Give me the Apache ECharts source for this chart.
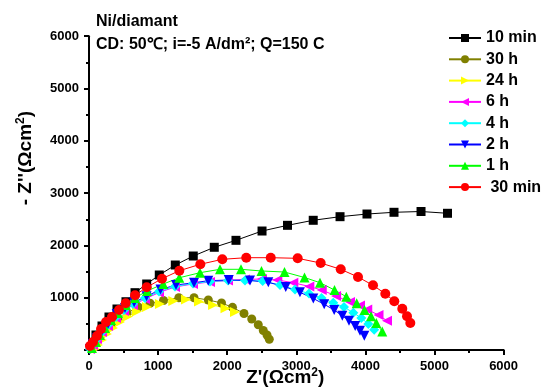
<!DOCTYPE html>
<html>
<head>
<meta charset="utf-8">
<script src="https://cdn.jsdelivr.net/npm/echarts@6/dist/echarts.min.js"></script>
<style>html,body{margin:0;padding:0;background:#fff}#c{width:544px;height:390px}</style>
</head>
<body>
<div id="c"></div>
<script>
const seriesNames = ['10 min', '30 h', '24 h', '6 h', '4 h', '2 h', '1 h', ' 30 min'];
const xTicks = [0, 1000, 2000, 3000, 4000, 5000, 6000];
const yTicks = [0, 1000, 2000, 3000, 4000, 5000, 6000];

const d10min = [[101,287],[188,459],[289,631],[405,784],[535,923],[666,1096],[835,1262],[1017,1434],[1249,1625],[1509,1797],[1813,1964],[2127,2097],[2504,2275],[2873,2384],[3245,2480],[3633,2549],[4023,2600],[4414,2633],[4805,2648],[5188,2614]];
const d30h = [[58,38],[101,134],[159,249],[232,363],[318,478],[420,593],[550,707],[713,822],[883,893],[1078,946],[1300,1000],[1520,1000],[1727,956],[1918,899],[2077,816],[2243,698],[2355,593],[2450,482],[2522,373],[2576,287],[2609,205]];
const d24h = [[87,19],[130,96],[188,191],[260,306],[347,421],[449,535],[564,641],[695,736],[839,822],[1027,880],[1220,937],[1404,966],[1592,927],[1795,860],[1975,797],[2113,727]];
const d6h = [[14,19],[58,96],[116,210],[188,344],[275,459],[391,612],[507,746],[637,860],[810,975],[1013,1099],[1245,1205],[1505,1262],[1751,1300],[2012,1329],[2258,1348],[2504,1358],[2725,1338],[2957,1287],[3188,1214],[3368,1147],[3575,1033],[3777,918],[3922,851],[4027,774],[4190,669],[4313,560]];
const d4h = [[14,19],[58,96],[116,210],[188,344],[275,478],[391,631],[507,765],[637,880],[810,994],[1013,1119],[1245,1214],[1505,1272],[1751,1310],[2012,1329],[2258,1329],[2514,1319],[2764,1243],[2981,1157],[3184,1080],[3365,994],[3535,904],[3690,822],[3825,713],[3941,612],[4042,497],[4127,388]];
const d2h = [[14,19],[58,115],[116,229],[188,363],[275,497],[401,688],[521,803],[653,912],[833,1027],[1035,1157],[1259,1243],[1520,1287],[1726,1325],[2022,1338],[2330,1329],[2595,1294],[2847,1205],[3053,1103],[3246,985],[3404,874],[3548,765],[3666,654],[3763,560],[3852,459],[3922,367],[3984,273]];
const d1h = [[43,38],[101,153],[159,287],[232,421],[318,574],[420,707],[535,860],[666,994],[839,1128],[1075,1262],[1307,1382],[1606,1478],[1896,1543],[2200,1543],[2496,1511],[2829,1491],[3119,1386],[3343,1287],[3553,1147],[3724,1019],[3874,893],[3987,765],[4081,644],[4158,516],[4244,354]];
const d30min = [[14,76],[58,153],[116,268],[174,402],[246,535],[333,631],[434,765],[531,893],[666,1046],[835,1199],[1056,1363],[1307,1516],[1611,1639],[1929,1734],[2276,1765],[2630,1765],[3020,1753],[3353,1663],[3643,1543],[3893,1396],[4110,1237],[4288,1076],[4418,931],[4534,790],[4602,644],[4650,516]];

const seriesData = [d10min, d30h, d24h, d6h, d4h, d2h, d1h, d30min];
const colors = ['#000000', '#808000', '#ffff00', '#ff00ff', '#00ffff', '#0000ff', '#00ff00', '#ff0000'];
const symbols = ['rect', 'circle', 'triangle', 'triangle', 'diamond', 'triangle', 'triangle', 'circle'];
const rotations = [0, 0, -90, 90, 0, 180, 0, 0];
const sizes = [9, 9, 10, 10, 10, 10, 10, 10];

const FONT = 'Arial, "Liberation Sans", sans-serif';

const chart = echarts.init(document.getElementById('c'), null, {renderer: 'canvas'});

const series = seriesNames.map((n, i) => ({
  name: n,
  type: 'line',
  data: seriesData[i],
  symbol: symbols[i],
  symbolRotate: rotations[i],
  symbolSize: sizes[i],
  showAllSymbol: true,
  smooth: false,
  animation: false,
  color: colors[i],
  lineStyle: {color: colors[i], width: 1},
  itemStyle: {color: colors[i], borderWidth: 0},
  emphasis: {disabled: true}
}));

const nameRich = {
  a: {fontFamily: FONT, fontWeight: 'bold', fontSize: 19, color: '#000'},
  s: {fontFamily: FONT, fontWeight: 'bold', fontSize: 12, color: '#000', padding: [0, 0, 10, 0]}
};

chart.setOption({
  animation: false,
  backgroundColor: '#ffffff',
  title: {
    text: 'Ni/diamant\nCD: 50℃; i=-5 A/dm²; Q=150 C',
    left: 96, top: 10,
    padding: 0,
    textStyle: {fontFamily: FONT, fontWeight: 'bold', fontSize: 16, color: '#000', lineHeight: 23}
  },
  legend: {
    orient: 'vertical',
    left: 448, top: 30,
    padding: 0,
    itemWidth: 32, itemHeight: 10, itemGap: 5.3,
    data: seriesNames,
    textStyle: {fontFamily: FONT, fontWeight: 'bold', fontSize: 16, color: '#000', lineHeight: 16}
  },
  grid: {left: 89, right: 40.4, top: 36.2, bottom: 40, containLabel: false, outerBoundsMode: 'none'},
  xAxis: {
    type: 'value', min: xTicks[0], max: xTicks[xTicks.length - 1], interval: 1000,
    name: "{a|Z'(Ωcm}{s|2}{a|)}",
    nameLocation: 'middle', nameGap: 17, nameMoveOverlap: false,
    nameTextStyle: {padding: [0, 22, 0, 0], rich: nameRich},
    axisLine: {show: true, onZero: false, lineStyle: {color: '#000', width: 2}},
    axisTick: {show: true, inside: false, length: 5, lineStyle: {color: '#000', width: 2}},
    minorTick: {show: true, splitNumber: 2, length: 3, lineStyle: {color: '#000', width: 2}},
    splitLine: {show: false},
    axisLabel: {fontFamily: FONT, fontWeight: 'bold', fontSize: 13, color: '#000', margin: 10,
      formatter: v => String(v)}
  },
  yAxis: {
    type: 'value', min: yTicks[0], max: yTicks[yTicks.length - 1], interval: 1000,
    name: "{a|- Z''(Ωcm}{s|2}{a|)}",
    nameLocation: 'middle', nameGap: 52, nameRotate: 90, nameMoveOverlap: false,
    nameTextStyle: {padding: [0, 0, 0, 70], rich: nameRich},
    axisLine: {show: true, onZero: false, lineStyle: {color: '#000', width: 2}},
    axisTick: {show: true, inside: false, length: 5, lineStyle: {color: '#000', width: 2}},
    minorTick: {show: true, splitNumber: 2, length: 3, lineStyle: {color: '#000', width: 2}},
    splitLine: {show: false},
    axisLabel: {fontFamily: FONT, fontWeight: 'bold', fontSize: 13, color: '#000', margin: 10,
      formatter: v => (v === 0 ? '' : String(v))}
  },
  series: series
});
</script>
</body>
</html>
